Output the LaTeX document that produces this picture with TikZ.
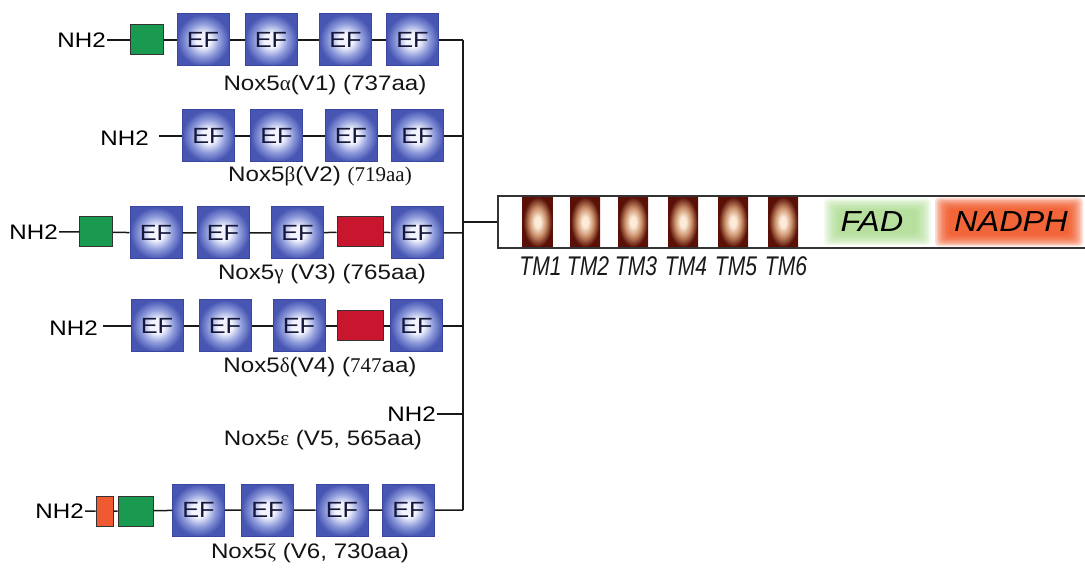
\documentclass[tikz,border=0pt]{standalone}
\usepackage{fontspec}
\setmainfont{Liberation Sans}[FakeStretch=1.15]
\newfontfamily\grk{Liberation Serif}
\newfontfamily\tmf{Liberation Sans}[FakeStretch=0.78]
\newfontfamily\domf{Liberation Sans}[FakeStretch=1.12]
\definecolor{efout}{HTML}{4755B3}
\definecolor{efmid}{HTML}{8E9BDB}
\definecolor{efin}{HTML}{F2F3FD}
\definecolor{efdraw}{HTML}{3A46A0}
\definecolor{grn}{HTML}{1A9A50}
\definecolor{rd}{HTML}{C8162E}
\definecolor{org}{HTML}{F05A30}
\definecolor{tmout}{HTML}{5A1006}
\definecolor{tmmid}{HTML}{C98E68}
\definecolor{tmin}{HTML}{FCEBD8}
\definecolor{fadc}{HTML}{9FD67F}
\definecolor{nadc}{HTML}{F0501E}
\definecolor{efText}{HTML}{15183A}
\pgfdeclareradialshading{efshade}{\pgfpoint{0bp}{0bp}}{color(0bp)=(efin); color(7bp)=(efin); color(16bp)=(efmid); color(25bp)=(efout); color(50bp)=(efout)}
\pgfdeclareradialshading{tmshade}{\pgfpoint{0bp}{0bp}}{color(0bp)=(tmin); color(5bp)=(tmin); color(14bp)=(tmmid); color(24bp)=(tmout); color(50bp)=(tmout)}
\tikzset{
  ef/.style={draw=efdraw, line width=1pt, shading=efshade,
    minimum width=52, minimum height=52, inner sep=0pt,
    font=\fontsize{22}{24}\selectfont, text=efText},
  gbox/.style={draw=black!80, line width=1pt, fill=grn, minimum width=33, minimum height=30, inner sep=0pt},
  rbox/.style={draw=black!80, line width=1pt, fill=rd, minimum width=46, minimum height=30, inner sep=0pt},
  obox/.style={draw=black!80, line width=1pt, fill=org, minimum width=17, minimum height=30, inner sep=0pt},
  nh/.style={inner sep=1pt, font=\fontsize{21}{24}\selectfont, text=black},
  lab/.style={inner sep=0pt, font=\fontsize{21}{24}\selectfont, text=black!92},
  ln/.style={line width=1.5pt, black!90},
  bar/.style={line width=2.6pt, black!90},
  tm/.style={shading=tmshade, minimum width=30, minimum height=52, inner sep=0pt},
  tmlab/.style={inner sep=0pt, font=\tmf\itshape\fontsize{27}{30}\selectfont, text=black!90},
  dom/.style={inner sep=0pt, font=\domf\itshape\fontsize{29}{32}\selectfont, text=black}
}
\begin{document}
\begin{tikzpicture}[x=1pt,y=-1pt]
\useasboundingbox (0,0) rectangle (1085,569);
% ---- alpha
\node[nh, anchor=east] (a0) at (107,40) {NH2};
\node[gbox] (ag) at (147,40) {};
\node[ef] (a1) at (203,40) {EF};
\node[ef] (a2) at (271,40) {EF};
\node[ef] (a3) at (345.5,40) {EF};
\node[ef] (a4) at (412.5,40) {EF};
\coordinate (aj) at (463,40);
\draw[ln] (a0) -- (ag) -- (a1) -- (a2) -- (a3) -- (a4) -- (aj);
\node[lab] (al) at (325,85) {Nox5{\grk α}(V1) (737aa)};
% ---- beta
\node[nh, anchor=east] (bn) at (150,138) {NH2};
\coordinate (b0) at (159,136);
\node[ef] (b1) at (208.5,136) {EF};
\node[ef] (b2) at (276.5,136) {EF};
\node[ef] (b3) at (351,136) {EF};
\node[ef] (b4) at (417.5,136) {EF};
\coordinate (bj) at (463,136);
\draw[ln] (b0) -- (b1) -- (b2) -- (b3) -- (b4) -- (bj);
\node[lab] (bl) at (320,176) {Nox5{\grk β}(V2) {\grk (719aa)}};
% ---- gamma
\node[nh, anchor=east] (c0) at (59,232) {NH2};
\node[gbox] (cg) at (96,232) {};
\node[ef] (c1) at (156,233) {EF};
\node[ef] (c2) at (223,233) {EF};
\node[ef] (c3) at (297.5,233) {EF};
\node[rbox] (cr) at (360,232) {};
\node[ef] (c4) at (417,233) {EF};
\coordinate (cj) at (463,233);
\draw[ln] (c0) -- (cg) -- (c1) -- (c2) -- (c3) -- (cr) -- (c4) -- (cj);
\node[lab] (cl) at (322,274) {Nox5{\grk γ} (V3) (765aa)};
% ---- delta
\node[nh, anchor=east] (dn) at (99,328) {NH2};
\coordinate (d0) at (103,326);
\node[ef] (d1) at (157,326) {EF};
\node[ef] (d2) at (225,326) {EF};
\node[ef] (d3) at (299,326) {EF};
\node[rbox] (dr) at (360.5,326) {};
\node[ef] (d4) at (416.5,326) {EF};
\coordinate (dj) at (463,326);
\draw[ln] (d0) -- (d1) -- (d2) -- (d3) -- (dr) -- (d4) -- (dj);
\node[lab] (dl) at (320,367) {Nox5{\grk δ}(V4) ({\grk 747}aa)};
% ---- epsilon
\node[nh, anchor=east] (e0) at (437,414) {NH2};
\coordinate (ej) at (463,414);
\draw[ln] (e0) -- (ej);
\node[lab] (el) at (323,440) {Nox5{\grk ε} (V5, 565aa)};
% ---- zeta
\node[nh, anchor=east] (f0) at (85,511) {NH2};
\node[obox] (fo) at (104.5,511) {};
\node[gbox, minimum width=35] (fg) at (135.5,511) {};
\node[ef] (f1) at (198.5,510) {EF};
\node[ef] (f2) at (267.5,510) {EF};
\node[ef] (f3) at (342,510) {EF};
\node[ef] (f4) at (408.5,510) {EF};
\coordinate (fj) at (463,510);
\draw[ln] (f0) -- (fo) -- (fg) -- (f1) -- (f2) -- (f3) -- (f4) -- (fj);
\node[lab] (fl) at (310,553) {Nox5{\grk ζ} (V6, 730aa)};
% ---- trunk
\draw[bar] (aj) -- (fj);
% ---- membrane part
\foreach \n/\x in {1/537.5,2/585,3/633,4/683,5/733,6/783}{
  \node[tm] (tm\n) at (\x,222) {};
  \node[tmlab] (tl\n) at (\x+3,266) {TM\n};
}
\foreach \i in {0,...,9}{
  \fill[fadc, fill opacity=0.13, rounded corners=4] (824+\i*1.6,198.5+\i*1.3) rectangle (931-\i*1.6,245.5-\i*1.3);
  \fill[nadc, fill opacity=0.19, rounded corners=4] (935+\i*1.6,197.5+\i*1.3) rectangle (1083-\i*1.6,246.5-\i*1.3);
}
\node[draw=black!80, line width=1.4pt, minimum width=592, minimum height=52, inner sep=0pt] (box) at (794,222) {};
\node[dom] (fad) at (872,222) {FAD};
\node[dom] (nad) at (1011,222) {NADPH};
\coordinate (mj) at (463,222);
\draw[bar] (mj) -- (box.west);
\end{tikzpicture}
\end{document}
